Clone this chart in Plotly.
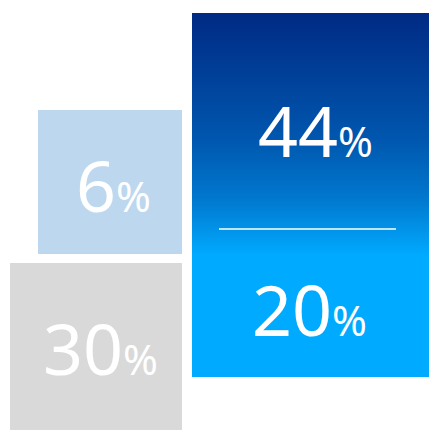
import plotly.graph_objects as go

# Data
labels = ["44", "20", "6", "30"]
values = [44, 20, 6, 30]

# Layout geometry (pixel-like coordinates, y grows downward)
W, H = 429, 430
blocks = {
    "main": dict(x0=192, x1=429, y0=13, y1=377),
    "light": dict(x0=38, x1=182, y0=110, y1=254),
    "grey": dict(x0=10, x1=182, y0=263, y1=431),
}
grad_stops = [(13, "#002a84"), (140, "#0057af"), (200, "#0079cf"), (255, "#00aaff")]

fig = go.Figure()

def rect_xy(b):
    return ([b["x0"], b["x1"], b["x1"], b["x0"], b["x0"]],
            [b["y0"], b["y0"], b["y1"], b["y1"], b["y0"]])

# Gradient main block
m = blocks["main"]
xs, ys = rect_xy(m)
g0, g1 = grad_stops[0][0], grad_stops[-1][0]
cs = [[(p - g0) / (g1 - g0), c] for p, c in grad_stops]
fig.add_trace(go.Scatter(x=xs, y=ys, fill="toself", mode="none",
                         fillgradient=dict(type="vertical", colorscale=cs, start=g0, stop=g1),
                         hoverinfo="skip", showlegend=False))

# Other blocks
for key, col in [("light", "#bdd7ee"), ("grey", "#d9d9d9")]:
    xs, ys = rect_xy(blocks[key])
    fig.add_trace(go.Scatter(x=xs, y=ys, fill="toself", mode="none", fillcolor=col,
                             hoverinfo="skip", showlegend=False))

# Divider line
fig.add_shape(type="line", x0=219, x1=396, y0=229, y1=229, line=dict(color="white", width=1.5))

# Labels
label_pos = [(315, 130), (309, 309), (113, 185), (100, 348)]
for lab, (x, y) in zip(labels, label_pos):
    fig.add_annotation(x=x, y=y, xanchor="center", yanchor="middle", showarrow=False,
                       text=f'{lab}<span style="font-size:42px">%</span>',
                       font=dict(family="Noto Sans", size=70, color="white"))

fig.update_xaxes(range=[0, W], visible=False, fixedrange=True)
fig.update_yaxes(range=[H, 0], visible=False, fixedrange=True)
fig.update_layout(width=W, height=H, margin=dict(l=0, r=0, t=0, b=0),
                  paper_bgcolor="white", plot_bgcolor="white")
fig.write_html("out.html")
